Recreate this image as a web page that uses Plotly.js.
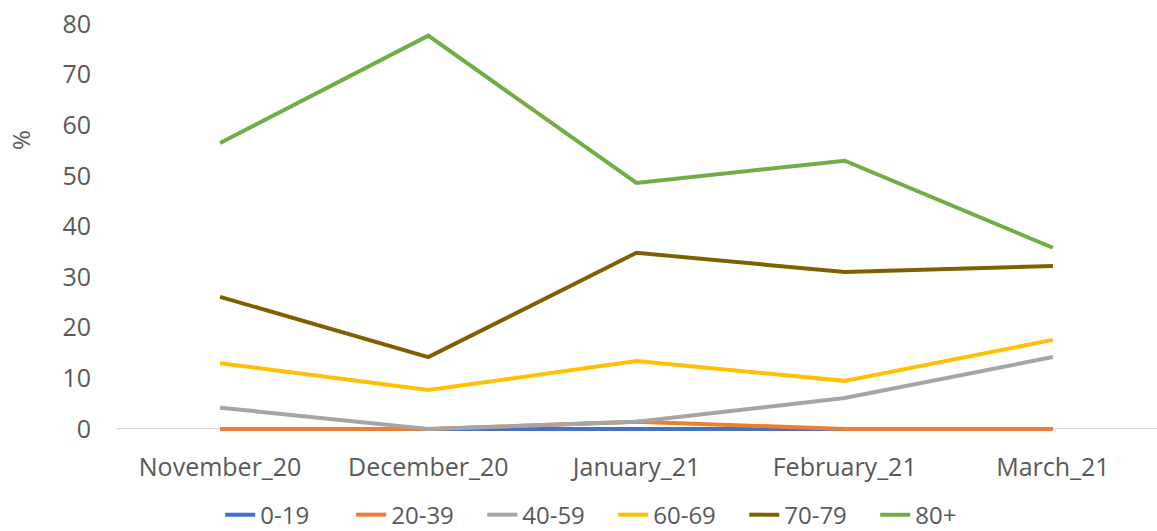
<!DOCTYPE html>
<html><head><meta charset="utf-8">
<script src="https://cdn.plot.ly/plotly-3.0.1.min.js"></script>
<style>html,body{margin:0;padding:0;background:#fff;}#chart{width:1157px;height:531px;}</style>
</head><body><div id="chart"></div>
<script>
const months = ["November_20","December_20","January_21","February_21","March_21"];
const seriesNames = ["0-19","20-39","40-59","60-69","70-79","80+"];
const s0_19  = [0, 0, 0, 0, 0];
const s20_39 = [0, 0, 1.4, 0, 0];
const s40_59 = [4.2, 0, 1.4, 6.1, 14.2];
const s60_69 = [13.0, 7.7, 13.4, 9.5, 17.6];
const s70_79 = [26.1, 14.2, 34.8, 31.0, 32.2];
const s80p   = [56.5, 77.7, 48.6, 53.0, 35.8];
const yTicks = [0,10,20,30,40,50,60,70,80];
const colors = ["#4472C4","#ED7D31","#A5A5A5","#FFC000","#7F6000","#70AD47"];
const allSeries = [s0_19, s20_39, s40_59, s60_69, s70_79, s80p];

const traces = allSeries.map((vals, i) => ({
  type: "scatter", mode: "lines", x: months, y: vals, name: seriesNames[i],
  line: {color: colors[i], width: 4}, hoverinfo: "skip"
}));

const fontFam = "Open Sans, sans-serif";
const layout = {
  width: 1157, height: 531,
  margin: {l: 116, r: 0, t: 19, b: 97},
  paper_bgcolor: "#fff", plot_bgcolor: "#fff",
  font: {family: fontFam, color: "#595959", size: 24},
  showlegend: true,
  legend: {orientation: "h", xref: "container", yref: "container", x: 0.53, xanchor: "center", y: 0.03, yanchor: "middle",
           font: {size: 24, color: "#595959"}, traceorder: "normal", itemwidth: 30,
           entrywidth: 86, entrywidthmode: "pixels", borderwidth: 0, bgcolor: "rgba(0,0,0,0)"},
  xaxis: {type: "category", range: [-0.5, 4.5], showgrid: false, zeroline: false, showline: false,
          ticks: "", tickfont: {size: 25, color: "#595959"}, ticklabelstandoff: 16},
  yaxis: {range: [-1, 81], tickvals: yTicks, showgrid: false, zeroline: true, zerolinecolor: "#D9D9D9", zerolinewidth: 1,
          showline: false, ticks: "", tickfont: {size: 25, color: "#595959"}, ticklabelstandoff: 24},
  annotations: [{text: "%", xref: "paper", yref: "paper",
                 x: (20 - 116) / (1157 - 116), y: (434 - 140) / (434 - 19),
                 xanchor: "center", yanchor: "middle", textangle: -90, showarrow: false,
                 font: {size: 24, color: "#595959"}}]
};

Plotly.newPlot("chart", traces, layout, {staticPlot: true, displayModeBar: false});
</script></body></html>
